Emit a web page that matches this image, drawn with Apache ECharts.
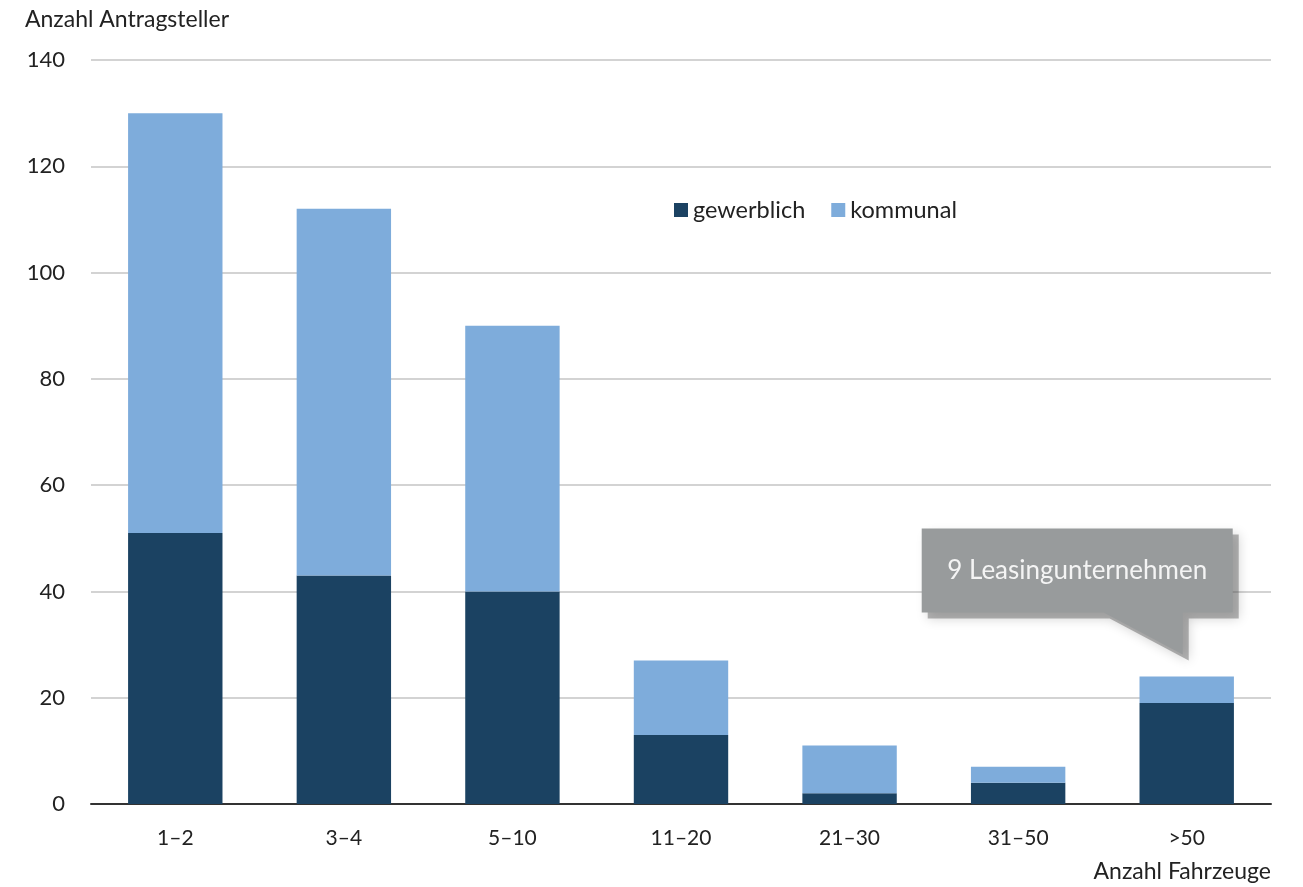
<!DOCTYPE html>
<html>
<head>
<meta charset="utf-8">
<script src="https://cdn.jsdelivr.net/npm/echarts@6/dist/echarts.min.js"></script>
<style>
  html, body { margin: 0; padding: 0; background: #fff; }
  #chart { width: 1303px; height: 887px; }
</style>
</head>
<body>
<div id="chart"></div>
<script>
// Fleet size classes of applicants
const categories = ['1–2', '3–4', '5–10', '11–20', '21–30', '31–50', '>50'];
// Number of applicants per class
const gewerblich = [51, 43, 40, 13, 2, 4, 19];
const kommunal = [79, 69, 50, 14, 9, 3, 5];
const yTicks = [0, 20, 40, 60, 80, 100, 120, 140];
const calloutText = '9 Leasingunternehmen';

const FONT = 'Lato, "Open Sans", sans-serif';
const chart = echarts.init(document.getElementById('chart'));

const option = {
  animation: false,
  backgroundColor: '#ffffff',
  textStyle: { fontFamily: FONT },
  grid: { left: 91, right: 32, top: 60, bottom: 83 },
  legend: {
    left: 669, top: 193,
    itemWidth: 14, itemHeight: 14, itemGap: 26,
    icon: 'rect',
    textStyle: { fontSize: 23.5, color: '#222', fontFamily: FONT },
    data: ['gewerblich', 'kommunal']
  },
  xAxis: {
    type: 'category',
    data: categories,
    axisLine: { lineStyle: { color: '#333', width: 2 } },
    axisTick: { show: false },
    axisLabel: { fontSize: 21, color: '#222', margin: 24 },
    name: 'Anzahl Fahrzeuge',
    nameLocation: 'end',
    nameGap: 0,
    nameTextStyle: { fontSize: 23, color: '#222', align: 'right', verticalAlign: 'top', padding: [56, 0, 0, 0] }
  },
  yAxis: {
    type: 'value',
    min: yTicks[0], max: yTicks[yTicks.length - 1], interval: 20,
    axisLine: { show: false },
    axisTick: { show: false },
    axisLabel: { fontSize: 22, color: '#222', margin: 26 },
    splitLine: { lineStyle: { color: '#d3d3d3', width: 2 } },
    name: 'Anzahl Antragsteller',
    nameLocation: 'end',
    nameGap: 29,
    nameTextStyle: { fontSize: 23, color: '#222', align: 'left', padding: [0, 0, 0, -66] }
  },
  series: [
    {
      name: 'gewerblich', type: 'bar', stack: 'total', barWidth: '56%',
      itemStyle: { color: '#1b4262' },
      data: gewerblich
    },
    {
      name: 'kommunal', type: 'bar', stack: 'total', barWidth: '56%',
      itemStyle: { color: '#7eacdb' },
      data: kommunal
    }
  ]
};
chart.setOption(option);

// Speech-bubble callout pointing at the top of the last bar
function drawCallout() {
  const last = categories.length - 1;
  const total = gewerblich[last] + kommunal[last];
  const tip = chart.convertToPixel({ gridIndex: 0 }, [last, total]);
  const tipX = tip[0] - 4, tipY = tip[1] - 22;
  const boxR = tipX + 50, boxL = boxR - 311, boxB = tipY - 42, boxT = boxB - 84;
  const shape = [
    [boxL, boxT], [boxR, boxT], [boxR, boxB], [tipX, boxB],
    [tipX, tipY], [tipX - 79, boxB], [boxL, boxB]
  ];
  const shifted = shape.map(p => [p[0] + 6, p[1] + 6]);
  chart.setOption({
    graphic: [
      {
        type: 'polygon', shape: { points: shifted }, z: 100,
        style: { fill: 'rgba(90,90,90,0.45)', shadowBlur: 12, shadowColor: 'rgba(0,0,0,0.4)' }
      },
      {
        type: 'polygon', shape: { points: shape }, z: 101,
        style: { fill: '#989b9c' }
      },
      {
        type: 'text', z: 102,
        x: (boxL + boxR) / 2, y: (boxT + boxB) / 2,
        style: {
          text: calloutText, fill: '#f4f4f4', fontSize: 26, fontFamily: FONT,
          align: 'center', verticalAlign: 'middle'
        }
      }
    ]
  });
}
drawCallout();
</script>
</body>
</html>
